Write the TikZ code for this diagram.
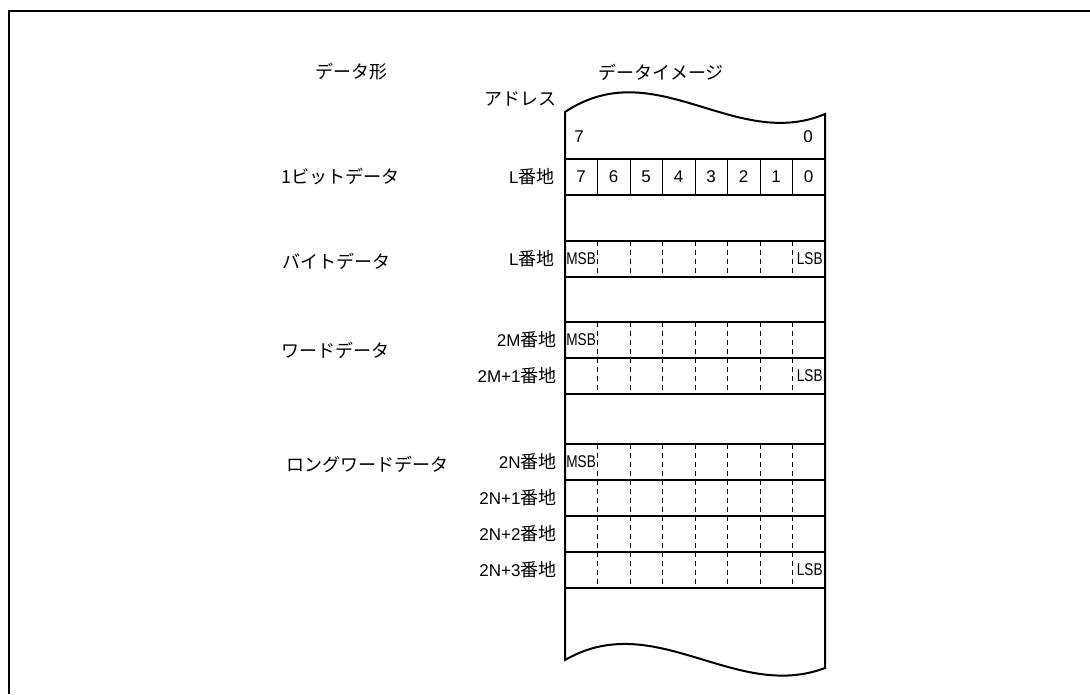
\documentclass[tikz,border=0pt]{standalone}
\usepackage{fontspec}
\setmainfont{Liberation Sans}
\newfontfamily\jp{Noto Sans CJK JP}
\newfontfamily\narrowfont[FakeStretch=0.8]{Liberation Sans}
\newcommand\jpsize{\jp\fontsize{18}{21}\selectfont}
\newcommand\banchi{{\jpsize 番地}}
\begin{document}
\begin{tikzpicture}[x=1pt, y=-1pt, thick,
    font=\fontsize{17}{20}\selectfont,
    jplabel/.style={font=\jpsize, inner sep=0pt},
    addrlabel/.style={anchor=east, inner sep=0pt},
    formlabel/.style={font=\jpsize, anchor=west, inner sep=0pt},
    siglabel/.style={font=\narrowfont\fontsize{17}{20}\selectfont, inner sep=0pt},
    rowline/.style={line width=1.6pt},
    bitline/.style={line width=0.8pt},
    dashline/.style={line width=0.8pt, dash pattern=on 5pt off 4pt},
    column/.style={line width=2pt}]
  \useasboundingbox (0,0) rectangle (1090,694);
  \draw[line width=2pt] (9,694) -- (9,11) -- (1090,11);
  % headings
  \node[jplabel] (form) at (351,72) {データ形};
  \node[jplabel] (image) at (661,72) {データイメージ};
  \node[jplabel, anchor=east] (addr) at (557,99) {アドレス};
  % memory column
  \draw[column] (565,660) -- (565,112) .. controls (655,52) and (735,152) .. (825,114)
    -- (825,668) .. controls (735,702) and (655,608) .. (565,660) -- cycle;
  \foreach \y in {159,195,241,277,322,358,394,444,480,516,552,588}
    \draw[rowline] (565,\y) -- (825,\y);
  \foreach \k in {1,...,7}
    \draw[bitline] (565+32.5*\k,159) -- (565+32.5*\k,195);
  \foreach \top in {241,322,358,444,480,516,552}
    \foreach \k in {1,...,7}
      \draw[dashline] (565+32.5*\k,\top) -- ++(0,36);
  \node (msbit) at (579,137) {7};
  \node (lsbit) at (808,137) {0};
  \foreach \b [count=\i from 0] in {7,6,5,4,3,2,1,0}
    \node (bit\b) at (581+32.5*\i,177) {\b};
  % MSB / LSB
  \node[siglabel, anchor=west] (msbB) at (566,259) {MSB};
  \node[siglabel, anchor=east] (lsbB) at (823,259) {LSB};
  \node[siglabel, anchor=west] (msbW) at (566,340) {MSB};
  \node[siglabel, anchor=east] (lsbW) at (823,376) {LSB};
  \node[siglabel, anchor=west] (msbL) at (566,462) {MSB};
  \node[siglabel, anchor=east] (lsbL) at (823,570) {LSB};
  % addresses
  \node[addrlabel] (addrbit) at (555,177) {L\banchi};
  \node[addrlabel] (addrbyte) at (555,259) {L\banchi};
  \node[addrlabel] (addrw0) at (557,340) {2M\banchi};
  \node[addrlabel] (addrw1) at (557,376) {2M+1\banchi};
  \node[addrlabel] (addrl0) at (557,462) {2N\banchi};
  \node[addrlabel] (addrl1) at (557,498) {2N+1\banchi};
  \node[addrlabel] (addrl2) at (557,534) {2N+2\banchi};
  \node[addrlabel] (addrl3) at (557,570) {2N+3\banchi};
  % data forms
  \node[formlabel] (bitform) at (281,177) {1ビットデータ};
  \node[formlabel] (byteform) at (282,261) {バイトデータ};
  \node[formlabel] (wordform) at (281,350) {ワードデータ};
  \node[formlabel] (longform) at (286,464) {ロングワードデータ};
\end{tikzpicture}
\end{document}
